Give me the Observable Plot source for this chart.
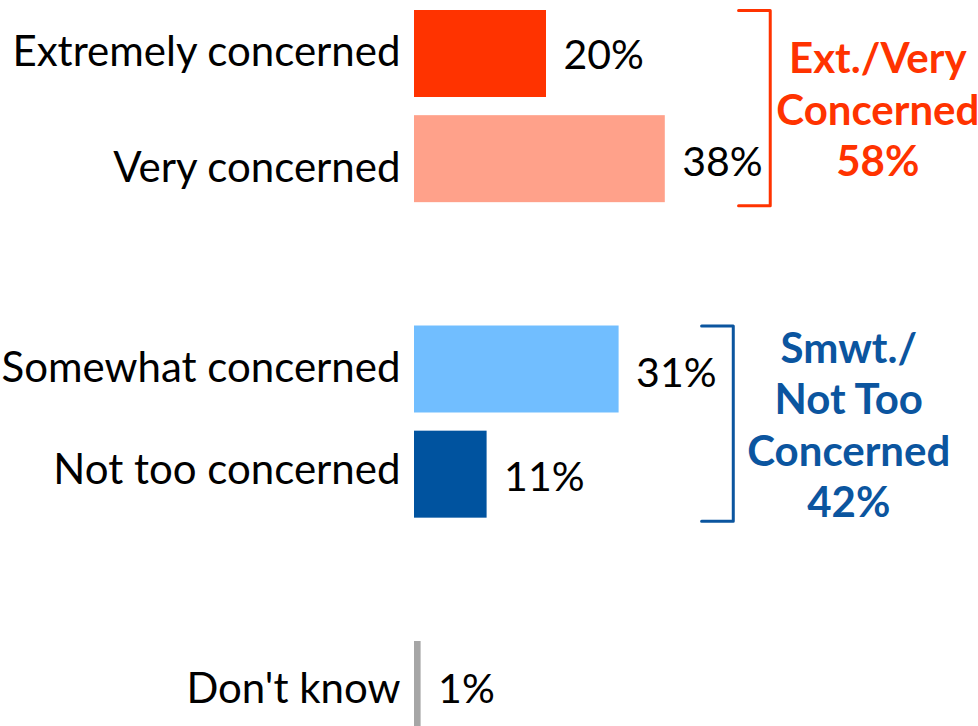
<!DOCTYPE html>
<html>
<head>
<meta charset="utf-8">
<script src="https://cdn.jsdelivr.net/npm/d3@7"></script>
<script src="https://cdn.jsdelivr.net/npm/@observablehq/plot@0.6"></script>
<style>
  html, body { margin: 0; padding: 0; background: #fff; }
  #chart { width: 978px; height: 726px; overflow: hidden; }
</style>
</head>
<body>
<div id="chart"></div>
<script>
// ---- data ----
const categories = ["Extremely concerned", "Very concerned", "Somewhat concerned", "Not too concerned", "Don't know"];
const values = [20, 38, 31, 11, 1];
const rowIndex = [0, 1, 3, 4, 6]; // layout rows (rows 2 and 5 are gaps)
const barColors = ["#FF3300", "#FFA18A", "#71BEFF", "#00539F", "#A6A6A6"];

const groupLabels = ["Ext./Very\nConcerned\n58%", "Smwt./\nNot Too\nConcerned\n42%"];
const groupMembers = [[0, 1], [2, 3]];
const groupColors = ["#FF3300", "#0B559F"];

// ---- layout ----
const rowPx = 105.17;                       // pixels per row unit
const half = 0.4136;                        // half bar thickness in row units
const labelShiftPx = [-1.9, 9.1, -0.9, -3.9, 4.6];  // fine vertical nudges of category labels
const valueShiftPx = [2.1, 4.1, 4.1, 3.1, 5.1];     // fine vertical nudges of value labels
const bracketX = [53.9, 48.3];              // vertical stroke of bracket (x units)
const armLen = 4.8;
const groupLabelX = [70.2, 65.8];

const rows = categories.map((c, i) => ({
  label: c, value: values[i], row: rowIndex[i], color: barColors[i],
  ly: rowIndex[i] + labelShiftPx[i] / rowPx,
  vy: rowIndex[i] + valueShiftPx[i] / rowPx
}));

const groups = groupLabels.map((g, k) => {
  const rs = groupMembers[k].map(i => rowIndex[i]);
  const top = Math.min(...rs) - half;
  const bottom = Math.max(...rs) + half + 0.03;
  return {label: g, color: groupColors[k], top, bottom, mid: (top + bottom) / 2, k};
});

const bracketPts = groups.flatMap(g => [
  {k: g.k, color: g.color, x: bracketX[g.k] - armLen, y: g.top},
  {k: g.k, color: g.color, x: bracketX[g.k], y: g.top},
  {k: g.k, color: g.color, x: bracketX[g.k], y: g.bottom},
  {k: g.k, color: g.color, x: bracketX[g.k] - armLen, y: g.bottom}
]);

const fs = 42;

const chart = Plot.plot({
  width: 978,
  height: 726,
  margin: 0,
  style: {fontFamily: "Lato, 'Open Sans', sans-serif", background: "#fff", overflow: "visible"},
  x: {domain: [0, 40], range: [414, 678], axis: null},
  y: {domain: [0, 6], range: [53.5, 684.5], axis: null},
  color: {type: "identity"},
  marks: [
    Plot.rect(rows, {x1: d => 0, x2: "value", y1: d => d.row - half, y2: d => d.row + half, fill: "color"}),
    Plot.text(rows, {x: d => 0, y: "ly", text: "label", textAnchor: "end", dx: -14, fontSize: fs, fill: "#000"}),
    Plot.text(rows, {x: "value", y: "vy", text: d => d.value + "%", textAnchor: "start", dx: 17, fontSize: 41, fill: "#000"}),
    Plot.line(bracketPts, {x: "x", y: "y", z: "k", stroke: "color", strokeWidth: 3, strokeLinejoin: "round", strokeLinecap: "round"}),
    Plot.text(groups, {x: d => groupLabelX[d.k], y: "mid", text: "label", fill: "color", fontWeight: "bold", fontSize: 42, lineHeight: 1.22, textAnchor: "middle"})
  ]
});

document.getElementById("chart").appendChild(chart);
</script>
</body>
</html>
